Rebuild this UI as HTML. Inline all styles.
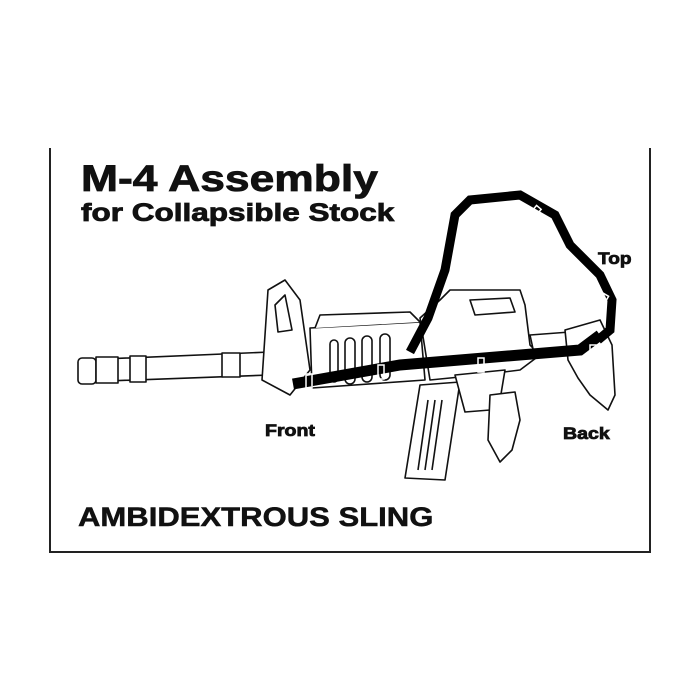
<!DOCTYPE html>
<html><head><style>
body{margin:0;background:#fff;width:700px;height:700px;overflow:hidden;position:relative;font-family:"Liberation Sans",Arial,sans-serif;font-weight:bold;color:#111}
.t{position:absolute;white-space:nowrap;transform-origin:0 0;-webkit-text-stroke:0.8px #111}
</style></head><body>
<svg width="700" height="700" style="position:absolute;left:0;top:0">
<g stroke="#222" fill="none">
<line x1="50" y1="148" x2="50" y2="553" stroke-width="2"/>
<line x1="49" y1="552" x2="651" y2="552" stroke-width="2"/>
<line x1="650" y1="148" x2="650" y2="553" stroke-width="2"/>
</g>
<g stroke="#111" stroke-width="1.6" fill="#fff" stroke-linejoin="round">
<path d="M80 360 L270 352 L270 375 L80 382 Z"/>
<rect x="78" y="358" width="18" height="26" rx="4"/>
<rect x="96" y="357" width="22" height="26"/>
<rect x="130" y="356" width="16" height="26"/>
<rect x="222" y="353" width="18" height="24"/>
<path d="M262 380 L268 290 L285 280 L300 300 L305 335 L310 370 L290 395 Z"/>
<path d="M275 305 L285 295 L292 330 L278 332 Z"/>
<path d="M310 328 L420 322 L425 380 L312 388 Z"/>
<path d="M315 328 L320 315 L410 312 L420 322"/>
<rect x="330" y="340" width="8" height="42" rx="4"/>
<rect x="345" y="338" width="10" height="46" rx="5"/>
<rect x="362" y="336" width="10" height="46" rx="5"/>
<rect x="380" y="334" width="10" height="46" rx="5"/>
<path d="M420 318 L440 300 L450 290 L520 290 L525 305 L530 345 L540 355 L520 370 L480 375 L430 380 Z"/>
<path d="M470 300 L510 298 L515 312 L475 315 Z"/>
<path d="M530 335 L570 332 L570 355 L535 358 Z"/>
<path d="M565 330 L600 320 L612 345 L615 395 L608 410 L590 395 L578 378 L568 360 Z"/>
<path d="M420 385 L460 382 L445 480 L405 478 Z"/>
<line x1="428" y1="400" x2="418" y2="470"/><line x1="435" y1="400" x2="425" y2="470"/><line x1="442" y1="400" x2="432" y2="470"/>
<path d="M455 375 L505 370 L500 400 L490 410 L465 412 Z"/>
<path d="M490 395 L515 392 L520 420 L512 450 L500 462 L488 440 Z"/>
</g>
<g stroke="#000" fill="none">
<path d="M293 384 L400 365 L580 350 L600 335" stroke-width="11"/>
<path d="M410 352 L428 318 L445 270 L455 215 L470 200 L520 195 L555 215 L570 245 L600 275 L612 300 L610 330 L598 340" stroke-width="9"/>
</g>
<g stroke="#fff" stroke-width="1.5" fill="none">
<rect x="306" y="374" width="6" height="14"/>
<rect x="378" y="365" width="6" height="14"/>
<rect x="478" y="358" width="6" height="14"/>
<rect x="590" y="345" width="6" height="12"/>
<rect x="532" y="206" width="6" height="12" transform="rotate(40 535 212)"/>
<rect x="600" y="294" width="6" height="12" transform="rotate(30 603 300)"/>
</g>
</svg>
<div class="t" style="left:81px;top:158px;font-size:37px;transform:scaleX(1.2)">M-4 Assembly</div>
<div class="t" style="left:81px;top:199px;font-size:25px;transform:scaleX(1.26)">for Collapsible Stock</div>
<div class="t" style="left:598px;top:249px;font-size:17px;transform:scaleX(1.12)">Top</div>
<div class="t" style="left:265px;top:421px;font-size:17px;transform:scaleX(1.15)">Front</div>
<div class="t" style="left:563px;top:424px;font-size:17px;transform:scaleX(1.15)">Back</div>
<div class="t" style="left:78px;top:502px;font-size:27px;transform:scaleX(1.15);-webkit-text-stroke:0.5px #111">AMBIDEXTROUS SLING</div>
</body></html>
